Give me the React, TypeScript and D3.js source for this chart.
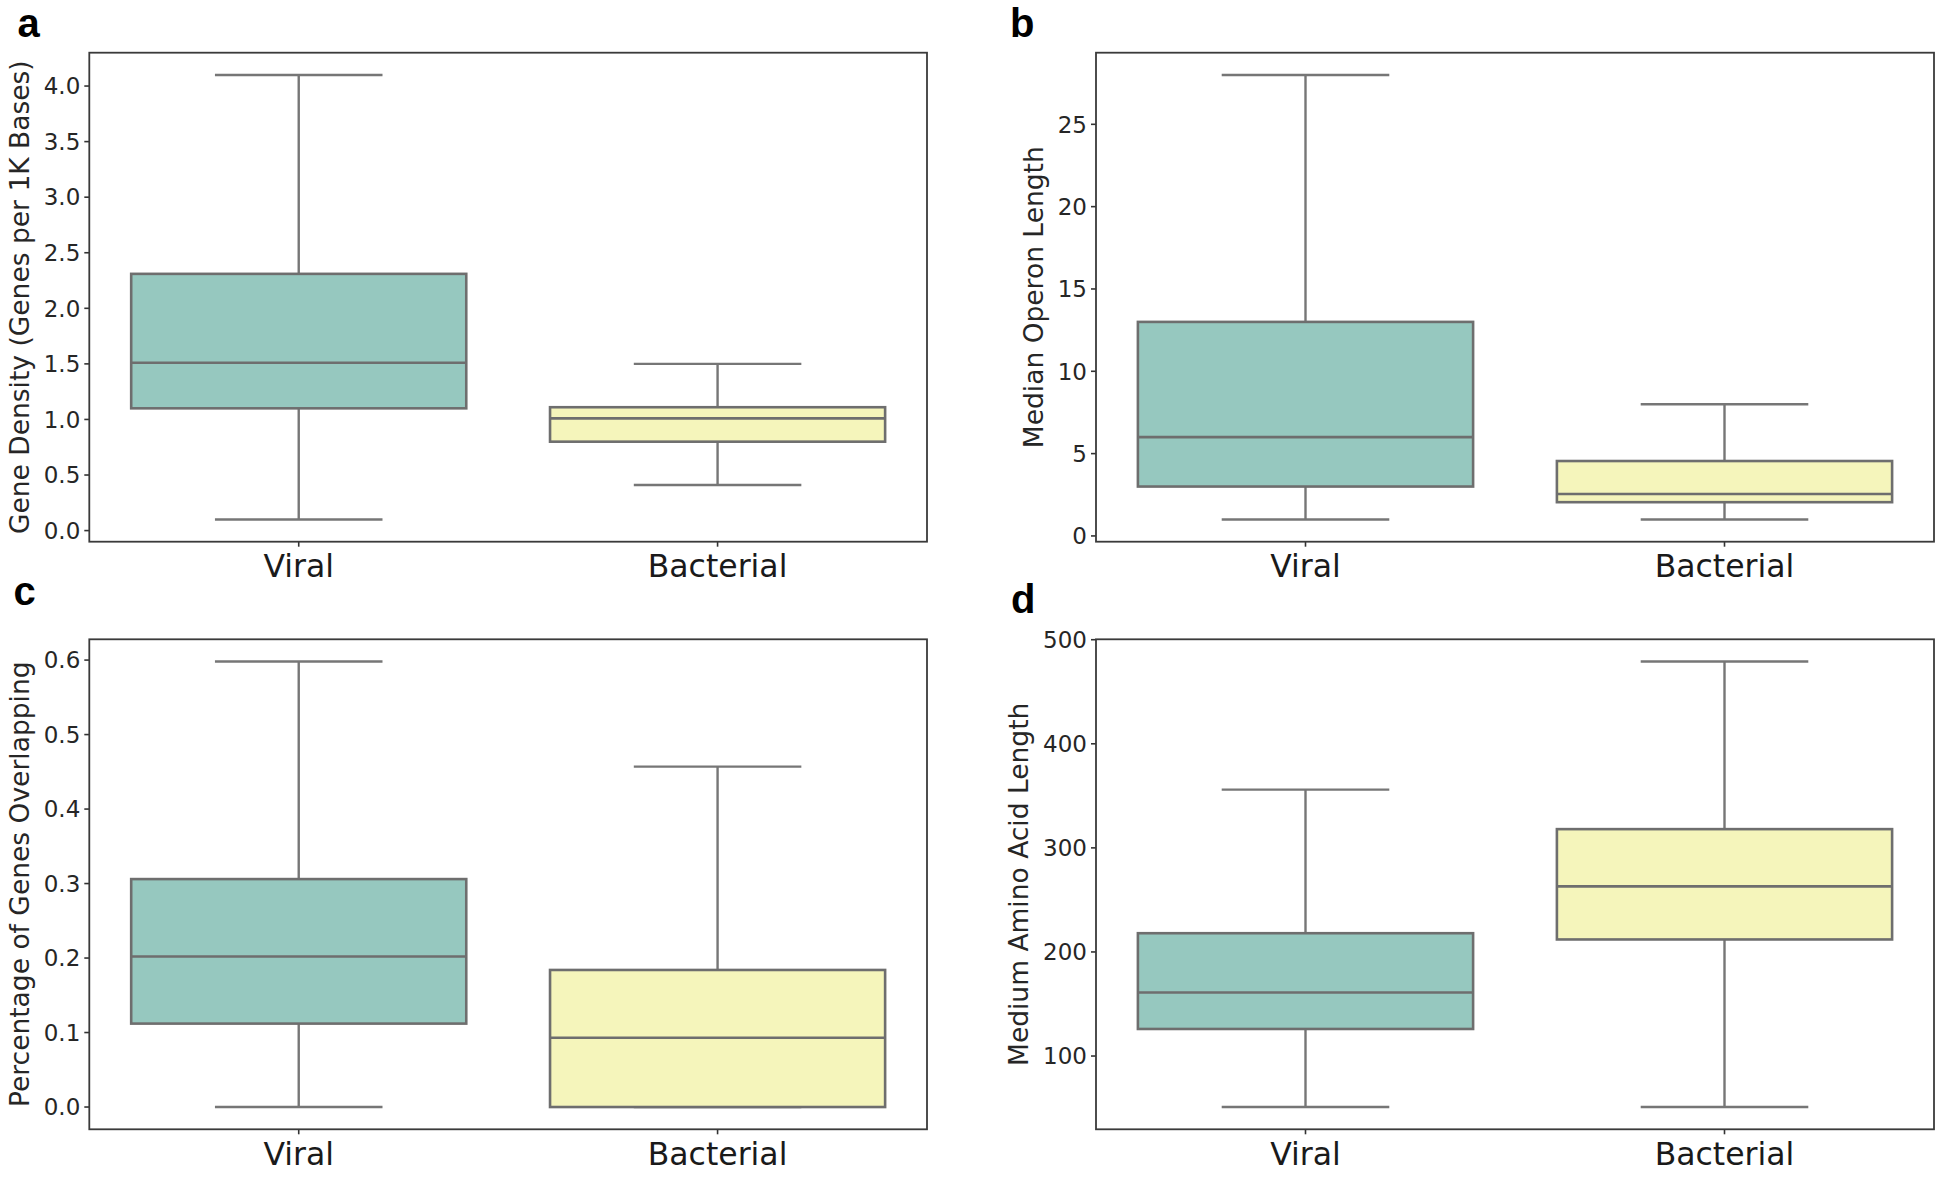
import React from "react";
import * as d3 from "d3";

const categories = ["Viral", "Bacterial"];
const boxColors = ["#96c8bf", "#f5f5bb"];

// [whiskerLow, q1, median, q3, whiskerHigh] per category
const densityStats = [
  [0.1, 1.1, 1.51, 2.31, 4.1],
  [0.41, 0.8, 1.01, 1.11, 1.5],
];
const operonStats = [
  [1, 3, 6, 13, 28],
  [1, 2.05, 2.55, 4.55, 8],
];
const overlapStats = [
  [0, 0.112, 0.202, 0.306, 0.598],
  [0, 0.0, 0.093, 0.184, 0.457],
];
const aminoStats = [
  [51, 126, 161, 218, 356],
  [51, 212, 263, 318, 479],
];

const densityTicks = [0, 0.5, 1.0, 1.5, 2.0, 2.5, 3.0, 3.5, 4.0];
const operonTicks = [0, 5, 10, 15, 20, 25];
const overlapTicks = [0, 0.1, 0.2, 0.3, 0.4, 0.5, 0.6];
const aminoTicks = [100, 200, 300, 400, 500];

const panelLetters = ["a", "b", "c", "d"];
const yLabels = [
  "Gene Density (Genes per 1K Bases)",
  "Median Operon Length",
  "Percentage of Genes Overlapping",
  "Medium Amino Acid Length",
];

const FONT = "DejaVu Sans, sans-serif";

function charW(s: string) {
  let w = 0;
  for (const c of s) w += c === "." ? 0.318 : 0.636;
  return w;
}

function Panel({ box, stats, ticks, fmt, ylabel, letter, letterPos }: any) {
  const [left, top, right, bottom] = box;
  const lo = d3.min(stats, (s: number[]) => s[0]) as number;
  const hi = d3.max(stats, (s: number[]) => s[4]) as number;
  const pad = (hi - lo) * 0.05;
  const y = d3.scaleLinear().domain([lo - pad, hi + pad]).range([bottom, top]);
  const x = d3.scaleBand().domain(categories).range([left, right]).paddingInner(0).paddingOuter(0);
  const bw = x.bandwidth();
  const tickFont = 23;
  const labels = ticks.map((t: number) => fmt(t));
  const maxW = d3.max(labels, (l: string) => charW(l) * tickFont) as number;
  const labelX = left - maxW - 24;
  const lineColor = "#767676";
  return (
    <g>
      <text x={letterPos[0]} y={letterPos[1]} fontFamily="Liberation Sans, Arial, sans-serif" fontWeight="bold" fontSize={40} fill="#000">
        {letter}
      </text>
      {categories.map((c, i) => {
        const s = stats[i];
        const cx = (x(c) as number) + bw / 2;
        const boxW = bw * 0.8;
        const capW = bw * 0.4;
        return (
          <g key={c}>
            <line x1={cx} x2={cx} y1={y(s[3])} y2={y(s[4])} stroke={lineColor} strokeWidth={2.4} />
            <line x1={cx} x2={cx} y1={y(s[1])} y2={y(s[0])} stroke={lineColor} strokeWidth={2.4} />
            <line x1={cx - capW / 2} x2={cx + capW / 2} y1={y(s[4])} y2={y(s[4])} stroke={lineColor} strokeWidth={2.4} />
            <line x1={cx - capW / 2} x2={cx + capW / 2} y1={y(s[0])} y2={y(s[0])} stroke={lineColor} strokeWidth={2.4} />
            <rect x={cx - boxW / 2} y={y(s[3])} width={boxW} height={Math.max(0, y(s[1]) - y(s[3]))} fill={boxColors[i]} stroke="#6e6e6e" strokeWidth={2.6} />
            <line x1={cx - boxW / 2} x2={cx + boxW / 2} y1={y(s[2])} y2={y(s[2])} stroke="#6e6e6e" strokeWidth={2.6} />
            <line x1={cx} x2={cx} y1={bottom} y2={bottom + 5} stroke="#333" strokeWidth={1.6} />
            <text x={cx} y={bottom + 35.6} textAnchor="middle" fontFamily={FONT} fontSize={31.5} fill="#1a1a1a">
              {c}
            </text>
          </g>
        );
      })}
      {ticks.map((t: number, i: number) => (
        <g key={t}>
          <line x1={left - 5} x2={left} y1={y(t)} y2={y(t)} stroke="#333" strokeWidth={1.6} />
          <text x={left - 9} y={y(t)} dy="0.36em" textAnchor="end" fontFamily={FONT} fontSize={tickFont} fill="#262626">
            {labels[i]}
          </text>
        </g>
      ))}
      <rect x={left} y={top} width={right - left} height={bottom - top} fill="none" stroke="#3a3a3a" strokeWidth={1.8} />
      <text
        transform={`translate(${labelX},${(top + bottom) / 2}) rotate(-90)`}
        textAnchor="middle"
        fontFamily={FONT}
        fontSize={26.5}
        fill="#262626"
      >
        {ylabel}
      </text>
    </g>
  );
}

export default function App() {
  const boxes = [
    [89.3, 52.7, 927, 541.7],
    [1096, 52.7, 1934, 541.7],
    [89.3, 639.3, 927, 1129.3],
    [1096, 639.3, 1934, 1129.3],
  ];
  const letterPos = [
    [17.5, 36.5],
    [1010, 36.5],
    [13.5, 605],
    [1011, 613.3],
  ];
  const f1 = (t: number) => t.toFixed(1);
  const f0 = (t: number) => String(t);
  const panels = [
    { stats: densityStats, ticks: densityTicks, fmt: f1 },
    { stats: operonStats, ticks: operonTicks, fmt: f0 },
    { stats: overlapStats, ticks: overlapTicks, fmt: f1 },
    { stats: aminoStats, ticks: aminoTicks, fmt: f0 },
  ];
  return (
    <svg
      width={1948}
      height={1179}
      style={{ position: "absolute", left: 0, top: 0, display: "block", background: "#fff" }}
    >
      <rect x={0} y={0} width={1948} height={1179} fill="#fff" />
      {panels.map((p, i) => (
        <Panel
          key={i}
          box={boxes[i]}
          stats={p.stats}
          ticks={p.ticks}
          fmt={p.fmt}
          ylabel={yLabels[i]}
          letter={panelLetters[i]}
          letterPos={letterPos[i]}
        />
      ))}
    </svg>
  );
}
